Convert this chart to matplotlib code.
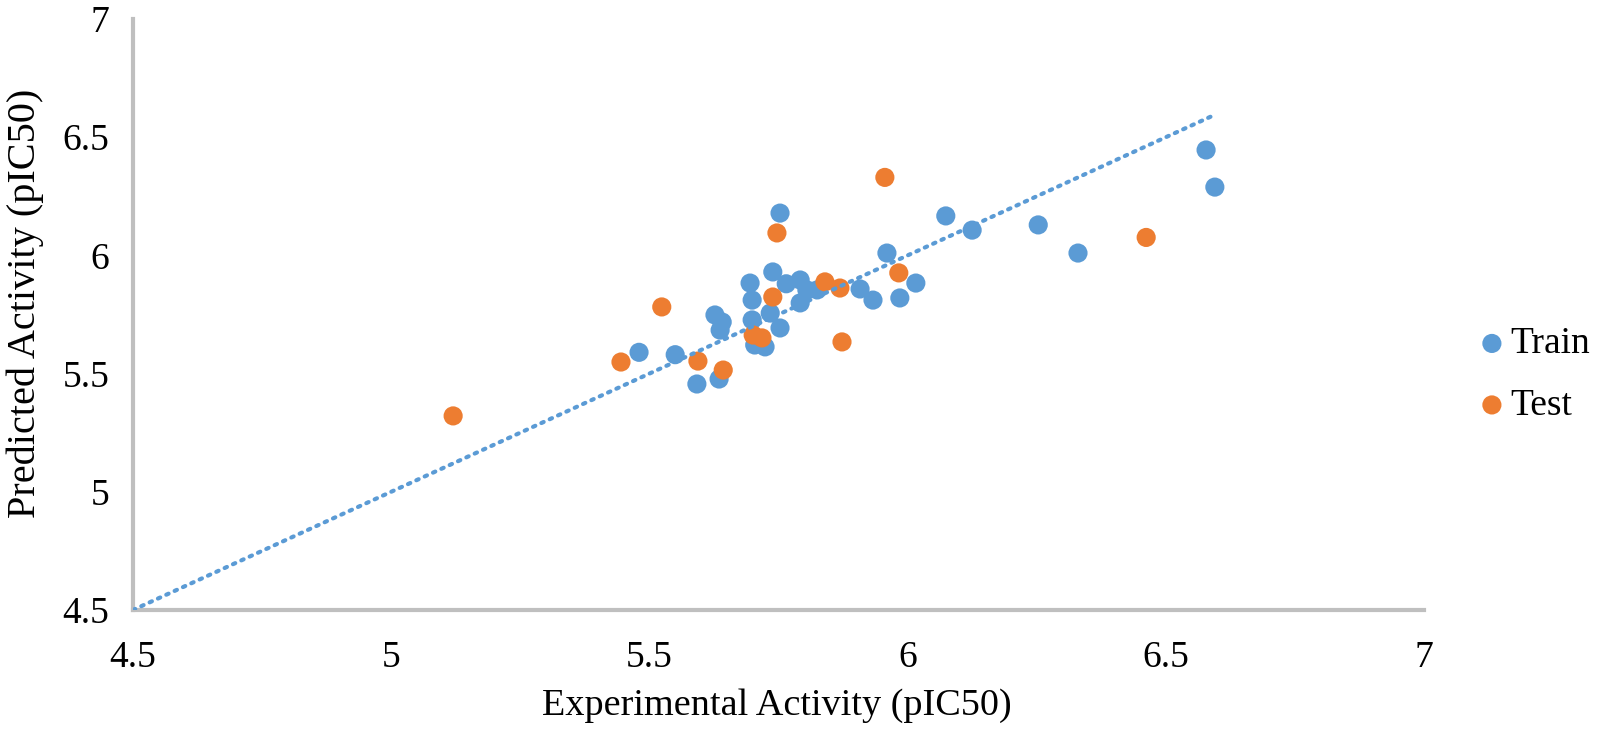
import matplotlib
matplotlib.use("Agg")
import matplotlib.pyplot as plt

train_x = [5.480, 5.550, 5.592, 5.635, 5.627, 5.641, 5.637, 5.699, 5.695, 5.699,
           5.739, 5.753, 5.792, 5.805, 5.825, 5.792, 5.753, 5.704, 5.724, 5.734,
           5.765, 5.908, 5.933, 5.960, 5.985, 6.016, 6.074, 6.125, 6.253, 6.330,
           6.578, 6.595]
train_y = [5.590, 5.580, 5.456, 5.477, 5.748, 5.718, 5.684, 5.727, 5.883, 5.811,
           5.930, 6.179, 5.896, 5.854, 5.854, 5.799, 5.693, 5.621, 5.613, 5.756,
           5.880, 5.858, 5.811, 6.010, 5.820, 5.883, 6.167, 6.107, 6.129, 6.010,
           6.446, 6.289]

test_x = [5.120, 5.445, 5.524, 5.594, 5.643, 5.701, 5.718, 5.739, 5.747, 5.840,
          5.869, 5.873, 5.956, 5.983, 6.462]
test_y = [5.321, 5.549, 5.782, 5.553, 5.515, 5.663, 5.651, 5.824, 6.095, 5.888,
          5.862, 5.634, 6.330, 5.926, 6.076]

trend_x = [4.5, 6.59]
trend_y = [4.5, 6.59]

ticks = [4.5, 5, 5.5, 6, 6.5, 7]
tick_labels = ["4.5", "5", "5.5", "6", "6.5", "7"]

plt.rcParams['font.family'] = ['Liberation Serif', 'DejaVu Serif']

BLUE = "#5B9BD5"
ORANGE = "#ED7D31"
GREY = "#BFBFBF"

fig = plt.figure(figsize=(16, 7.32), dpi=100)
ax = fig.add_axes([0.0831, 0.1667, 0.8069, 0.8073])

ax.plot(trend_x, trend_y, color=BLUE, lw=3, linestyle=(0, (0.6, 1.6)),
        dash_capstyle='round', zorder=3)
ax.scatter(train_x, train_y, s=190, color=BLUE, edgecolors='none', label="Train", zorder=2)
ax.scatter(test_x, test_y, s=190, color=ORANGE, edgecolors='none', label="Test", zorder=2)

ax.set_xlim(4.5, 7)
ax.set_ylim(4.5, 7)
ax.set_xticks(ticks)
ax.set_xticklabels(tick_labels)
ax.set_yticks(ticks)
ax.set_yticklabels(tick_labels)
ax.tick_params(axis='both', length=0, labelsize=27)
ax.tick_params(axis='x', pad=22)
ax.tick_params(axis='y', pad=17)

for s in ['top', 'right']:
    ax.spines[s].set_visible(False)
for s in ['left', 'bottom']:
    ax.spines[s].set_color(GREY)
    ax.spines[s].set_linewidth(3)

ax.set_xlabel("Experimental Activity (pIC50)", fontsize=27.5)
ax.set_ylabel("Predicted Activity (pIC50)", fontsize=29)
ax.xaxis.set_label_coords(0.4985, -0.133)
ax.yaxis.set_label_coords(-0.069, 0.518)

leg = fig.legend(loc='center left',
                 bbox_to_anchor=(0.909, 0.488), frameon=False, fontsize=27,
                 handletextpad=0.0, borderpad=0, labelspacing=0.72,
                 markerscale=1.0, handlelength=1.0)

fig.savefig("out.png", dpi=100)
